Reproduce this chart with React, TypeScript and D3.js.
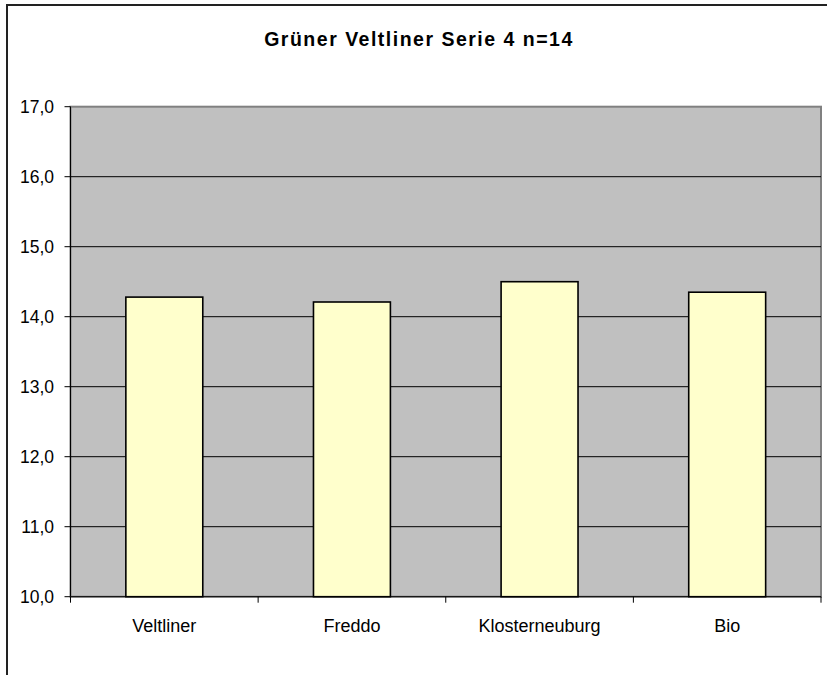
import React from 'react';
import * as d3 from 'd3';

const title = 'Grüner Veltliner Serie 4 n=14';
const categories = ['Veltliner', 'Freddo', 'Klosterneuburg', 'Bio'];
const values = [14.28, 14.21, 14.5, 14.35];
const yTicks = [10, 11, 12, 13, 14, 15, 16, 17];

const W = 827;
const H = 675;
const plot = { left: 70.5, top: 106.7, right: 821, bottom: 596.7 };

const App = () => {
  const x = d3.scaleBand<string>()
    .domain(categories)
    .range([plot.left, plot.right]);

  const y = d3.scaleLinear()
    .domain([10, 17])
    .range([plot.bottom, plot.top]);

  const barW = x.bandwidth() * 0.41;
  const fmt = (v: number) => v.toFixed(1).replace('.', ',');
  const font = 'Arial, "Liberation Sans", sans-serif';

  return (
    <svg width={W} height={H} style={{ position: 'absolute', left: 0, top: 0, background: '#fff' }}>
      {/* chart area border */}
      <rect x={7} y={5} width={W + 20} height={H + 20} fill="#fff" stroke="#222" strokeWidth={2} />

      <text x={419} y={46} textAnchor="middle" fontFamily={font} fontWeight="bold"
        fontSize={19.5} letterSpacing={1.5} fill="#000">{title}</text>

      {/* plot area */}
      <rect x={plot.left} y={plot.top} width={plot.right - plot.left} height={plot.bottom - plot.top}
        fill="#c0c0c0" stroke="#808080" strokeWidth={2} />

      {yTicks.filter(t => t > 10 && t < 17).map(t => (
        <line key={t} x1={plot.left} x2={plot.right} y1={y(t)} y2={y(t)} stroke="#000" strokeWidth={1} />
      ))}

      {categories.map((c, i) => (
        <rect key={c} x={x(c)! + (x.bandwidth() - barW) / 2} y={y(values[i])}
          width={barW} height={plot.bottom - y(values[i])}
          fill="#ffffcc" stroke="#000" strokeWidth={1.6} />
      ))}

      {/* y axis */}
      <line x1={plot.left} x2={plot.left} y1={plot.top} y2={plot.bottom} stroke="#000" strokeWidth={1} />
      {yTicks.map(t => (
        <g key={t} transform={`translate(0,${y(t)})`}>
          <line x1={plot.left - 6} x2={plot.left} stroke="#000" strokeWidth={1} />
          <text x={54} dy="0.35em" textAnchor="end" fontFamily={font} fontSize={17.5} fill="#000">{fmt(t)}</text>
        </g>
      ))}

      {/* x axis */}
      <line x1={plot.left} x2={plot.right} y1={plot.bottom} y2={plot.bottom} stroke="#000" strokeWidth={1} />
      {categories.map(c => x(c)!).concat([plot.right]).map((bx, i) => (
        <line key={i} x1={bx} x2={bx} y1={plot.bottom} y2={plot.bottom + 6} stroke="#000" strokeWidth={1} />
      ))}
      {categories.map(c => (
        <text key={c} x={x(c)! + x.bandwidth() / 2} y={631.7} textAnchor="middle"
          fontFamily={font} fontSize={18} fill="#000">{c}</text>
      ))}
    </svg>
  );
};

export default App;
